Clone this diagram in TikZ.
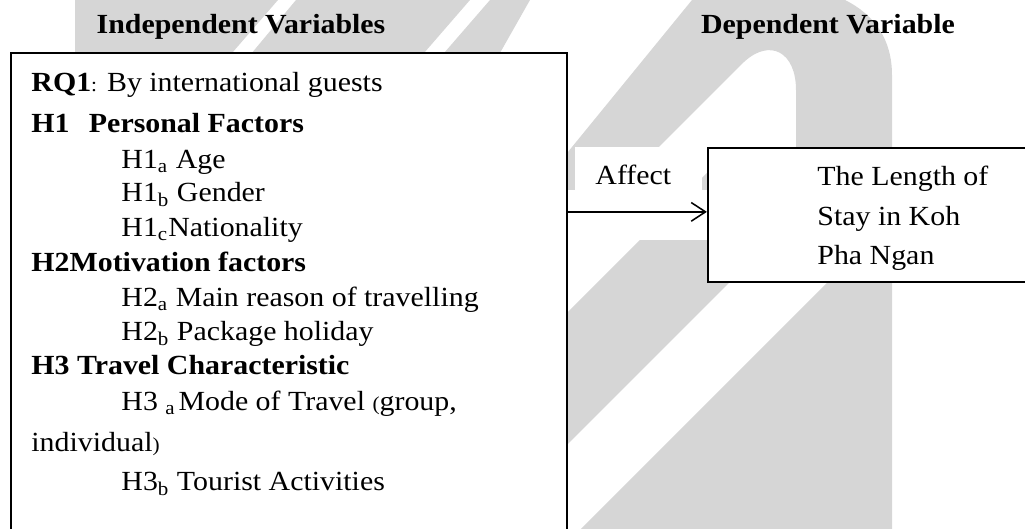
\documentclass[tikz,border=0pt]{standalone}
\usepackage{fontspec}
\setmainfont{Liberation Serif}[FakeStretch=1.08]
\usetikzlibrary{arrows.meta,fit}

\tikzset{
  wmark/.style={fill=black!16},
  varbox/.style={draw, line width=1pt, fill=white, inner sep=0pt},
  vartitle/.style={font=\fontsize{12.6}{15}\selectfont\bfseries, anchor=base, inner sep=0pt},
  item/.style={anchor=base west, inner sep=0pt},
}

\begin{document}
\begin{tikzpicture}[x=0.016cm, y=-0.016cm, font=\fontsize{12.6}{15}\selectfont]
    \useasboundingbox (0,0) rectangle (1025,529);
    \clip (0,0) rectangle (1025,529);

    % 水印
    \fill[wmark] (75,0) -- (75,60) -- (226,60) -- (278,0) -- cycle;
    \fill[wmark] (246,60) -- (296,0) -- (470,0) -- (418,60) -- cycle;
    \fill[wmark] (438,60) -- (490,0) -- (530,0) -- (496,60) -- cycle;
    \fill[wmark, even odd rule] (532,196) -- (692,0) -- (845,0) .. controls (875,15) and (892,40) .. (892,75) -- (892,196) -- cycle
        (610,196) -- (744,62) .. controls (770,38) and (796,52) .. (796,90) -- (796,196) -- cycle;
    \fill[wmark] (568,312) -- (732,148) -- (864,148) -- (568,444) -- cycle;
    \fill[wmark] (570,540) -- (892,218) -- (892,540) -- cycle;
    \fill[white] (575,147) rectangle (702,190);
    \fill[white] (567,190) rectangle (707,240);

    % 标题
    \node[vartitle] (indeptitle) at (241,34) {Independent Variables};
    \node[vartitle] (deptitle) at (828,34) {Dependent Variable};

    % 左框
    \node[varbox, fit={(11,53) (567,545)}] (indep) {};
    \node[item] (rq) at (31,92) {\textbf{RQ1}{\small:} By international guests};
    \node[item] (hone) at (31,133) {\textbf{H1\hspace{0.7em}Personal Factors}};
    \node[item] (honea) at (121,169) {H1\textsubscript{a} Age};
    \node[item] (honeb) at (121,202) {H1\textsubscript{b} Gender};
    \node[item] (honec) at (121,237) {H1\textsubscript{c}Nationality};
    \node[item] (htwo) at (31,272) {\textbf{H2Motivation factors}};
    \node[item] (htwoa) at (121,307) {H2\textsubscript{a} Main reason of travelling};
    \node[item] (htwob) at (121,341) {H2\textsubscript{b} Package holiday};
    \node[item] (hthree) at (31,375) {\textbf{H3 Travel Characteristic}};
    \node[item] (hthreea) at (121,411) {H3 \textsubscript{a}\hspace{0.1em}Mode of Travel {\small(}group,};
    \node[item] (indiv) at (31,452) {individual{\small)}};
    \node[item] (hthreeb) at (121,491) {H3\textsubscript{b} Tourist Activities};

    % 右框
    \node[varbox, fit={(708,148) (1040,282)}] (dep) {};
    \node[item] (lenone) at (817,186) {The Length of};
    \node[item] (lentwo) at (817,226) {Stay in Koh};
    \node[item] (lenthree) at (817,265) {Pha Ngan};

    % 箭头
    \node[item] (affect) at (595,185) {Affect};
    \coordinate (arrowend) at ([yshift=0.05cm]dep.west);
    \draw[line width=0.7pt, -{Straight Barb[length=6.5pt,width=8.5pt]}] (indep.east |- arrowend) -- (arrowend);
\end{tikzpicture}
\end{document}
